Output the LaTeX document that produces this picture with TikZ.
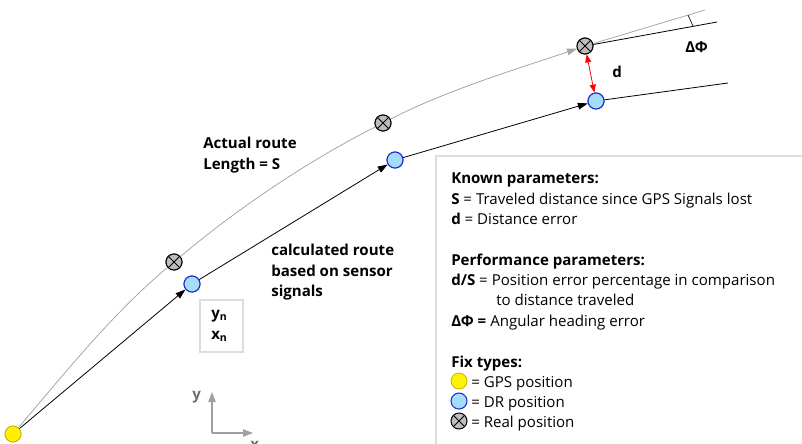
\documentclass[tikz,border=0pt]{standalone}
\usepackage{fontspec}
\setmainfont{Open Sans}
\usetikzlibrary{arrows.meta}
\definecolor{drfill}{HTML}{A6DCFA}
\definecolor{drline}{HTML}{1C2FD0}
\definecolor{gpsline}{HTML}{C8B400}
\definecolor{realfill}{HTML}{BDBDBD}
\definecolor{boxline}{HTML}{DDDDDD}
\definecolor{axiscol}{HTML}{A0A0A4}
\definecolor{axtext}{HTML}{707070}
\tikzset{
  txt/.style={inner sep=0pt, anchor=base west, font=\fontsize{11.3pt}{13pt}\selectfont},
  btxt/.style={txt, font=\fontsize{11.3pt}{13pt}\selectfont\bfseries},
  realpos/.style={circle, draw=black, fill=realfill, minimum size=12pt, inner sep=0pt, line width=0.75pt,
    path picture={
      \draw[line width=0.6pt] ([shift={(-6,-6)}]path picture bounding box.center) -- ([shift={(6,6)}]path picture bounding box.center);
      \draw[line width=0.6pt] ([shift={(-6,6)}]path picture bounding box.center) -- ([shift={(6,-6)}]path picture bounding box.center);}},
  drpos/.style={circle, draw=drline, fill=drfill, minimum size=12pt, inner sep=0pt, line width=0.8pt},
  gpspos/.style={circle, draw=gpsline, fill=yellow, minimum size=12pt, inner sep=0pt, line width=0.6pt},
  blk/.style={draw=black, line width=0.6pt, -{Triangle[length=7.5pt,width=5pt]}},
  actual/.style={draw=gray!70, line width=0.6pt},
}
\begin{document}
\begin{tikzpicture}[x=0.75pt,y=-0.75pt]
\useasboundingbox (0,0) rectangle (802,443);

% legend frame
\draw[boxline, line width=1.1pt] (803,156) -| (436,444);

% coordinates
\coordinate (aend) at (705,10);
\coordinate (bend) at (717,22);
\coordinate (cend) at (728,83);
\coordinate (m1) at (688,15);
\coordinate (m2) at (693,26);

% nodes
\node[gpspos] (g) at (13,434) {};
\node[realpos] (r1) at (174,262) {};
\node[realpos] (r2) at (383,123) {};
\node[realpos] (r3) at (585,46) {};
\node[drpos] (d1) at (192,284) {};
\node[drpos] (d2) at (395,160) {};
\node[drpos] (d3) at (596,101) {};

% actual route (gray)
\draw[actual] (g) .. controls (64,374) and (113,313) .. (r1);
\draw[actual] (r1) .. controls (238,208) and (308,161) .. (r2);
\draw[actual, -{Triangle[length=7.5pt,width=5pt]}] (r2) .. controls (447,90) and (517,69) .. (r3);
\draw[actual] (r3) -- (aend);
\draw[black, line width=0.6pt] (r3) -- (bend);
\draw[black, line width=0.5pt] (m1) -- (m2);

% calculated route (black)
\draw[blk] (g) -- (d1);
\draw[blk] (d1) -- (d2);
\draw[blk] (d2) -- (d3);
\draw[black, line width=0.6pt] (d3) -- (cend);

% distance error
\draw[red, line width=0.6pt, {Triangle[length=6pt,width=4.5pt]}-{Triangle[length=6pt,width=4.5pt]}] (r3) -- (d3);

% redraw nodes on top
\node[gpspos] at (g) {};
\node[realpos] at (r1) {};
\node[realpos] at (r2) {};
\node[realpos] at (r3) {};
\node[drpos] at (d1) {};
\node[drpos] at (d2) {};
\node[drpos] at (d3) {};

% labels
\node[btxt] (ldphi) at (685,52) {ΔΦ};
\node[btxt] (ld) at (612,77) {d};
\node[btxt] (la1) at (203,148) {Actual route};
\node[btxt] (la2) at (203,169) {Length = S};
\node[btxt] (lc1) at (271,255) {calculated route};
\node[btxt] (lc2) at (271,276) {based on sensor};
\node[btxt] (lc3) at (271,296) {signals};

% yn xn box
\draw[boxline, line width=1pt] (200,300) rectangle (243,352);
\node[btxt] (lyn) at (211,318) {y\textsubscript{n}};
\node[btxt] (lxn) at (211,339) {x\textsubscript{n}};

% axes
\coordinate (o) at (212,433);
\coordinate (ay) at (212,392);
\coordinate (ax) at (253,433);
\draw[axiscol, line width=0.9pt, -{Triangle[length=7.5pt,width=5.5pt]}] (o) -- (ay);
\draw[axiscol, line width=0.9pt, -{Triangle[length=7.5pt,width=5.5pt]}] (o) -- (ax);
\node[btxt, text=axtext] (lay) at (192,399) {y};
\node[btxt, text=axtext] (lax) at (250,449) {x};

% legend
\node[btxt] (k0) at (451,183) {Known parameters:};
\node[txt] (k1) at (451,204) {\textbf{S} = Traveled distance since GPS Signals lost};
\node[txt] (k2) at (451,224) {\textbf{d} = Distance error};
\node[btxt] (p0) at (451,265) {Performance parameters:};
\node[txt] (p1) at (451,285) {\textbf{d/S} = Position error percentage in comparison};
\node[txt] (p2) at (496,305) {to distance traveled};
\node[txt] (p3) at (451,326) {\textbf{ΔΦ =} Angular heading error};
\node[btxt] (f0) at (451,367) {Fix types:};
\node[gpspos] (fg) at (459,381) {};
\node[drpos] (fd) at (459,401) {};
\node[realpos] (fr) at (459,421) {};
\node[txt] (f1) at (471,387) {= GPS position};
\node[txt] (f2) at (471,407) {= DR position};
\node[txt] (f3) at (471,427) {= Real position};
\end{tikzpicture}
\end{document}
